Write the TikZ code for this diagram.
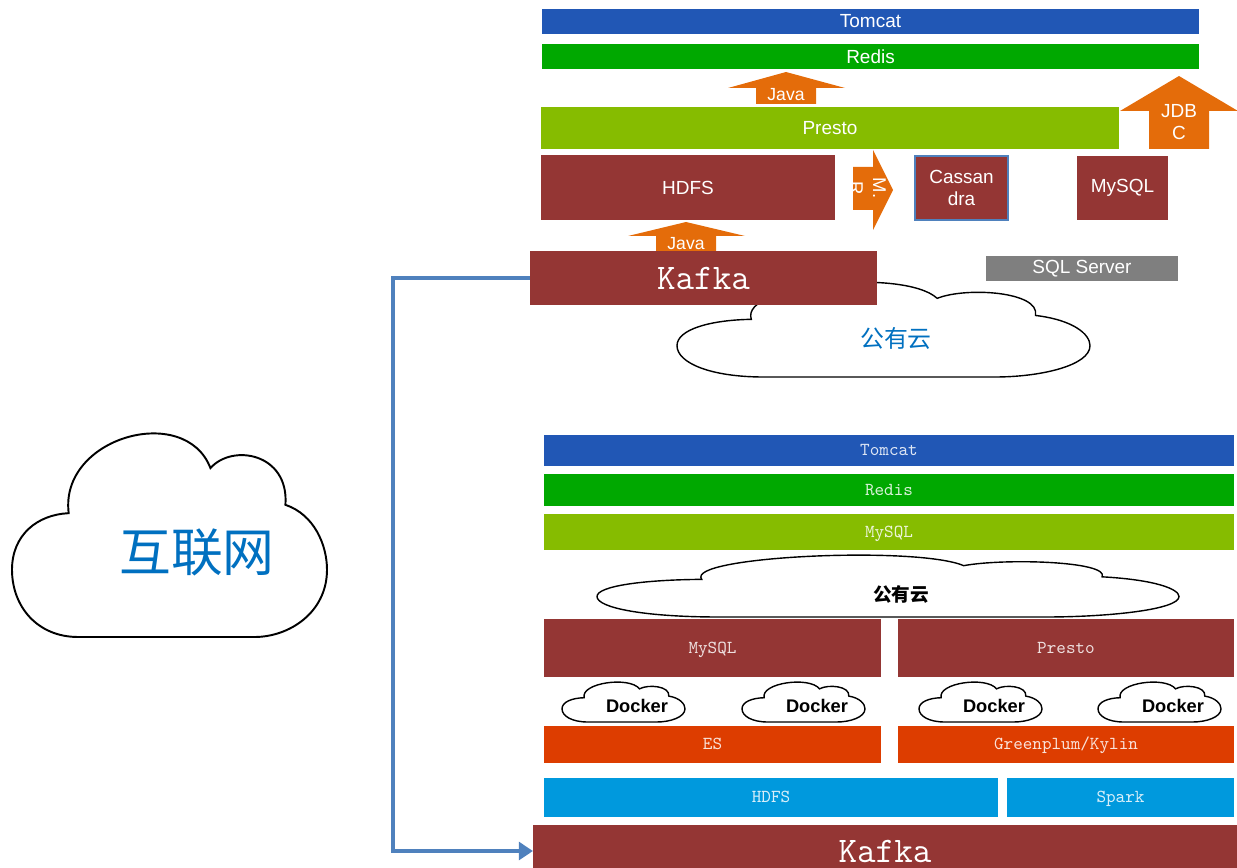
\documentclass[tikz,border=0pt]{standalone}
\usepackage{fontspec}
\newfontfamily\sansf{Liberation Sans}
\newfontfamily\cjkf{Noto Sans CJK SC}
\usepackage{xcolor}
\usepackage{tikz}
\usetikzlibrary{arrows.meta}

\definecolor{tomcatblue}{HTML}{2157B5}
\definecolor{redisgreen}{HTML}{00A800}
\definecolor{limegreen}{HTML}{86BC00}
\definecolor{kafkared}{HTML}{943634}
\definecolor{javaorange}{HTML}{E46C0A}
\definecolor{servergray}{HTML}{7F7F7F}
\definecolor{esorange}{HTML}{DD3D00}
\definecolor{hdfsblue}{HTML}{0099DD}
\definecolor{linkblue}{HTML}{4F81BD}
\definecolor{cloudtext}{HTML}{0070C0}

\newdimen\pxu
\pxu=0.02cm

\tikzset{
  bar/.style 2 args={anchor=north west, inner sep=0pt, outer sep=0pt,
    minimum width=#1*\pxu, minimum height=#2*\pxu},
  topbar/.style={text=white, font=\sansf\fontsize{10.8}{13}\selectfont, align=center},
  lowbar/.style={text=white, text opacity=0.85, font=\ttfamily\fontsize{10.4}{12.5}\selectfont,
    text height=1.8ex, text depth=0.4ex},
  kafkabar/.style={fill=kafkared, text=white, font=\ttfamily\fontsize{20.5}{24}\selectfont},
  blockarrow/.style={fill=javaorange},
  arrowtext/.style={text=white, font=\sansf\fontsize{10}{12}\selectfont, align=center, inner sep=0pt},
  cloudline/.style={draw=black, fill=white, line width=0.8pt},
  docker/.style={font=\sansf\bfseries\fontsize{10.4}{12}\selectfont},
  pics/cloudy/.style={code={
    \path[cloudline] (0.18,0.607) .. controls (0.15,0.98) and (0.55,1.15) .. (0.63,0.828)
      .. controls (0.7,0.95) and (0.88,0.9) .. (0.868,0.648)
      .. controls (0.96,0.6) and (1,0.45) .. (1,0.33)
      .. controls (1,0.12) and (0.88,0) .. (0.77,0)
      -- (0.21,0)
      .. controls (0.08,0) and (0,0.15) .. (0,0.33)
      .. controls (0,0.5) and (0.08,0.6) .. (0.18,0.607) -- cycle;
  }}
}

\begin{document}
\begin{tikzpicture}[x=0.02cm, y=-0.02cm]
    \useasboundingbox (0,0) rectangle (1237,868);
    \clip (0,0) rectangle (1237,868);

    % internet
    \pic[xscale=315, yscale=-204, cloudline/.append style={line width=1.1pt}] at (12,637) {cloudy};
    \node[font=\cjkf\fontsize{29.5}{34}\selectfont, text=cloudtext] (internet) at (197,552) {互联网};

    % upper stack
    \pic[xscale=413, yscale=-95] at (677,377) {cloudy};
    \node[font=\cjkf\fontsize{13.6}{16}\selectfont, text=cloudtext] (pubtop) at (896,338) {公有云};

    \node[bar={657}{25}, topbar, fill=tomcatblue] (tomcat) at (542,9) {Tomcat};
    \node[bar={657}{25}, topbar, fill=redisgreen] (redis) at (542,44) {Redis};
    \node[bar={578}{42}, topbar, fill=limegreen] (presto) at (541,107) {Presto};
    \node[bar={294}{65}, topbar, fill=kafkared] (hdfs) at (541,155) {HDFS};
    \node[bar={93}{64}, topbar, fill=kafkared, draw=linkblue, line width=0.9pt] (cassandra) at (915,156) {Cassan\\dra};
    \node[bar={91}{64}, topbar, fill=kafkared] (mysql) at (1077,156) {MySQL};
    \node[bar={192}{25}, topbar, fill=servergray] (sqlserver) at (986,256) {SQL Server};

    \fill[blockarrow] (786,72) -- (845,88) -- (816,88) -- (816,104) -- (756,104) -- (756,88) -- (728,88) -- cycle;
    \node[arrowtext] (java1) at (786,95) {Java};
    \fill[blockarrow] (1179,76) -- (1238,111) -- (1209,111) -- (1209,149) -- (1149,149) -- (1149,111) -- (1120,111) -- cycle;
    \node[arrowtext, font=\sansf\fontsize{10.8}{13}\selectfont] (jdbc) at (1179,122) {JDB\\C};
    \fill[blockarrow] (893,190) -- (873,230) -- (873,210) -- (853,210) -- (853,167) -- (873,167) -- (873,150) -- cycle;
    \node[arrowtext, rotate=-90, font=\sansf\fontsize{10.5}{13}\selectfont] (mr) at (868,188) {M.\\R};
    \fill[blockarrow] (686,222) -- (745,236) -- (716,236) -- (716,255) -- (656,255) -- (656,236) -- (628,236) -- cycle;
    \node[arrowtext] (java2) at (686,244) {Java};

    \node[bar={347}{54}, kafkabar] (kafkatop) at (530,251) {Kafka};

    % lower stack
    \node[bar={690}{31}, lowbar, fill=tomcatblue] (tomcat2) at (544,435) {Tomcat};
    \node[bar={690}{32}, lowbar, fill=redisgreen] (redis2) at (544,474) {Redis};
    \node[bar={690}{36}, lowbar, fill=limegreen] (mysql2) at (544,514) {MySQL};
    \pic[xscale=582, yscale=-62] at (597,617) {cloudy};
    \node[font=\cjkf\bfseries\fontsize{10.6}{13}\selectfont] (pubbottom) at (901,594) {公有云};

    \node[bar={337}{58}, lowbar, fill=kafkared] (mysql3) at (544,619) {MySQL};
    \node[bar={336}{58}, lowbar, fill=kafkared] (presto2) at (898,619) {Presto};
    \foreach \cx [count=\i] in {562,742,919,1098}{
        \pic[xscale=123, yscale=-40] at (\cx,722) {cloudy};
        \node[docker] (docker\i) at (\cx+75,706) {Docker};
    }
    \node[bar={337}{37}, lowbar, fill=esorange] (es) at (544,726) {ES};
    \node[bar={336}{37}, lowbar, fill=esorange] (greenplum) at (898,726) {Greenplum/Kylin};
    \node[bar={454}{39}, lowbar, fill=hdfsblue] (hdfs2) at (544,778) {HDFS};
    \node[bar={227}{39}, lowbar, fill=hdfsblue] (spark) at (1007,778) {Spark};
    \node[bar={704}{52}, kafkabar] (kafkabottom) at (533,825) {Kafka};

    % link between the two kafkas
    \coordinate (bend) at (393,278);
    \draw[linkblue, line width=2.3pt, -{Triangle[length=8pt,width=10pt]}]
        (kafkatop.west) -- (bend) |- (kafkabottom.west);
\end{tikzpicture}
\end{document}
